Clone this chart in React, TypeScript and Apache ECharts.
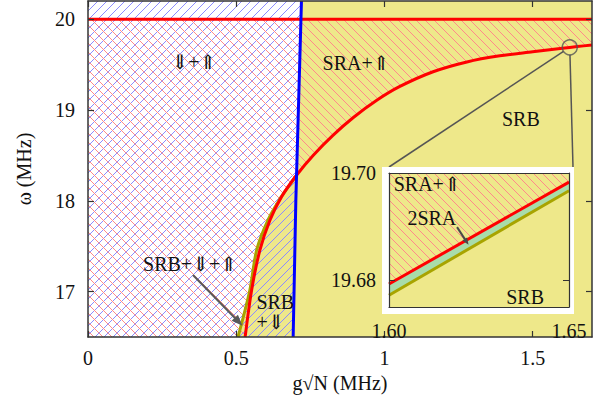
import React, { useEffect, useRef } from 'react';
import * as echarts from 'echarts';

// ---------- data ----------
const xRange = [0, 1.7];
const yRange = [16.5, 20.2];
const xTicks = [0, 0.5, 1, 1.5];
const yTicks = [17, 18, 19, 20];
const upperLimit = 20;

const redX = [0.53, 0.552, 0.58, 0.614, 0.653, 0.704, 0.76, 0.827, 0.895, 0.974, 1.052, 1.164, 1.278, 1.389, 1.5, 1.6, 1.65, 1.7];
const redW = [16.5, 17.018, 17.459, 17.788, 18.045, 18.284, 18.502, 18.723, 18.917, 19.107, 19.259, 19.421, 19.529, 19.596, 19.64, 19.679, 19.698, 19.716];

const oliveX = [0.506, 0.546, 0.569, 0.607, 0.651, 0.679, 0.7035];
const oliveW = [16.5, 17.018, 17.459, 17.788, 18.04, 18.17, 18.284];

const blueX = [0.692, 0.701, 0.72];
const blueW = [16.5, 18.0, 20.2];

const zoomPoint = [1.625, 19.69];

const insetXRange = [1.6, 1.65];
const insetYRange = [19.675, 19.7];
const insetXTicks = [1.6, 1.65];
const insetYTicks = [19.68, 19.7];
const insetRedX = [1.6, 1.65];
const insetRedW = [19.6793, 19.6983];
const insetOliveX = [1.6, 1.65];
const insetOliveW = [19.6772, 19.6967];

// text, x, ω, align
const mainLabels: [string, number, number, string][] = [
  ['⇓+⇑', 0.357, 19.528, 'center'],
  ['SRA+⇑', 0.904, 19.517, 'center'],
  ['SRB', 1.46, 18.9, 'center'],
  ['SRB+⇓+⇑', 0.344, 17.304, 'center'],
  ['SRB\n+⇓', 0.568, 16.77, 'left'],
];
const insetLabels: [string, number, number, string][] = [
  ['SRA+⇑', 1.6106, 19.698, 'center'],
  ['2SRA', 1.6119, 19.6916, 'center'],
  ['SRB', 1.6378, 19.6769, 'center'],
];
const mainArrows: number[][] = [[0.354, 17.183, 0.521, 16.625]];
const insetArrows: number[][] = [[1.6189, 19.6899, 1.6221, 19.6866]];

// ---------- style / layout ----------
const FONT = '"Liberation Serif", "DejaVu Serif", serif';
const KHAKI = '#eee88a';
const GREEN = '#a8dcaa';
const AXIS = '#333';
const TXT = '#111';
const MAIN = { left: 88, top: 1, right: 17, bottom: 62 };
const INSET = { left: 389, top: 173, width: 180, height: 134 };
const BOX = { x: INSET.left - 7, y: INSET.top - 6, w: INSET.width + 12, h: INSET.height + 13 };

function makeHatch(color: string, dir: number, size = 9) {
  const c = document.createElement('canvas');
  c.width = size;
  c.height = size;
  const ctx = c.getContext('2d')!;
  ctx.strokeStyle = color;
  ctx.lineWidth = 1;
  ctx.beginPath();
  for (const o of [-size, 0, size]) {
    if (dir > 0) {
      ctx.moveTo(o - 1, size + 1);
      ctx.lineTo(o + size + 1, -1);
    } else {
      ctx.moveTo(o - 1, -1);
      ctx.lineTo(o + size + 1, size + 1);
    }
  }
  ctx.stroke();
  return { image: c, repeat: 'repeat', imageWidth: size, imageHeight: size };
}

const zip = (xs: number[], ys: number[]) => xs.map((x, i) => [x, ys[i]]);

export default function App() {
  const ref = useRef<HTMLDivElement>(null);
  useEffect(() => {
    if (!ref.current) return;
    const chart = echarts.init(ref.current, null, { renderer: 'svg' });
    const blueHatch = makeHatch('#8c8cff', 1);
    const redHatch = makeHatch('#ff8a8a', -1);

    const red = zip(redX, redW);
    const olive = zip(oliveX, oliveW);
    const blue = zip(blueX, blueW);
    const lastOliveW = oliveW[oliveW.length - 1];

    const yellowPts = [
      ...olive,
      ...blue.filter((p) => p[1] > lastOliveW),
      [xRange[1], yRange[1]],
      [xRange[1], yRange[0]],
    ];
    const blueHatchPts = [[xRange[0], yRange[0]], ...blue, [xRange[0], yRange[1]]];
    const redHatchPts = [
      [xRange[0], yRange[0]],
      ...red,
      [xRange[1], upperLimit],
      [xRange[0], upperLimit],
    ];
    const mainRegions = [
      { pts: yellowPts, fill: KHAKI },
      { pts: blueHatchPts, fill: blueHatch },
      { pts: redHatchPts, fill: redHatch },
    ];

    const iRed = zip(insetRedX, insetRedW);
    const iOlive = zip(insetOliveX, insetOliveW);
    const insetRegions = [
      {
        pts: [
          [insetXRange[0], insetYRange[0]],
          [insetXRange[1], insetYRange[0]],
          [insetXRange[1], insetYRange[1]],
          [insetXRange[0], insetYRange[1]],
        ],
        fill: KHAKI,
      },
      { pts: [...iOlive, ...iRed.slice().reverse()], fill: GREEN },
      {
        pts: [...iRed, [insetXRange[1], insetYRange[1]], [insetXRange[0], insetYRange[1]]],
        fill: redHatch,
      },
    ];

    const polySeries = (regions: any[], gi: number, z: number) => ({
      type: 'custom',
      xAxisIndex: gi * 2,
      yAxisIndex: gi * 2,
      clip: true,
      silent: true,
      z,
      data: regions.map(() => [0, 0]),
      renderItem: (params: any, api: any) => {
        const r = regions[params.dataIndex];
        return {
          type: 'polygon',
          shape: { points: r.pts.map((p: number[]) => api.coord(p)) },
          style: { fill: r.fill, stroke: 'none' },
        };
      },
    });

    const lineSeries = (data: number[][], color: string, gi: number, z: number, smooth = 0) => ({
      type: 'line',
      xAxisIndex: gi * 2,
      yAxisIndex: gi * 2,
      data,
      showSymbol: false,
      symbol: 'none',
      smooth,
      clip: true,
      silent: true,
      z,
      lineStyle: { color, width: 3 },
    });

    const textSeries = (labels: [string, number, number, string][], gi: number, z: number) => ({
      type: 'custom',
      xAxisIndex: gi * 2,
      yAxisIndex: gi * 2,
      clip: false,
      silent: true,
      z,
      data: labels.map((l) => [l[1], l[2]]),
      renderItem: (params: any, api: any) => {
        const l = labels[params.dataIndex];
        const p = api.coord([l[1], l[2]]);
        return {
          type: 'text',
          x: p[0],
          y: p[1],
          style: {
            text: l[0],
            fill: TXT,
            fontSize: 20,
            lineHeight: 20,
            fontFamily: FONT,
            align: l[3],
            verticalAlign: 'middle',
          },
        };
      },
    });

    const arrowSeries = (arrows: number[][], gi: number, z: number, color: string, w: number, head: number) => ({
      type: 'custom',
      xAxisIndex: gi * 2,
      yAxisIndex: gi * 2,
      clip: false,
      silent: true,
      z,
      data: arrows.map((a) => [a[0], a[1]]),
      renderItem: (params: any, api: any) => {
        const a = arrows[params.dataIndex];
        const p1 = api.coord([a[0], a[1]]);
        const p2 = api.coord([a[2], a[3]]);
        const dx = p2[0] - p1[0];
        const dy = p2[1] - p1[1];
        const len = Math.hypot(dx, dy);
        const ux = dx / len;
        const uy = dy / len;
        const bx = p2[0] - ux * head;
        const by = p2[1] - uy * head;
        const hw = head * 0.4;
        return {
          type: 'group',
          children: [
            {
              type: 'line',
              shape: { x1: p1[0], y1: p1[1], x2: bx + ux * 2, y2: by + uy * 2 },
              style: { stroke: color, lineWidth: w },
            },
            {
              type: 'polygon',
              shape: {
                points: [
                  [p2[0], p2[1]],
                  [bx - uy * hw, by + ux * hw],
                  [bx + uy * hw, by - ux * hw],
                ],
              },
              style: { fill: color },
            },
          ],
        };
      },
    });

    const connectorSeries = {
      type: 'custom',
      xAxisIndex: 0,
      yAxisIndex: 0,
      clip: false,
      silent: true,
      z: 40,
      data: [zoomPoint],
      renderItem: (params: any, api: any) => {
        const c = api.coord(zoomPoint);
        const r = 7.5;
        const ends = [
          [INSET.left, BOX.y],
          [INSET.left + INSET.width + 4, BOX.y],
        ];
        return {
          type: 'group',
          children: ends.map((e) => {
            const dx = e[0] - c[0];
            const dy = e[1] - c[1];
            const l = Math.hypot(dx, dy);
            return {
              type: 'line',
              shape: { x1: c[0] + (dx / l) * r, y1: c[1] + (dy / l) * r, x2: e[0], y2: e[1] },
              style: { stroke: '#555', lineWidth: 1.5 },
            };
          }),
        };
      },
    };

    const labelStyle = { fontSize: 20, fontFamily: FONT, color: TXT };
    const baseAxis = (gi: number, z: number) => ({
      gridIndex: gi,
      type: 'value',
      z,
      splitLine: { show: false },
      axisLine: { onZero: false, lineStyle: { color: AXIS, width: gi === 0 ? 1.5 : 1.2 } },
    });

    chart.setOption({
      animation: false,
      backgroundColor: '#fff',
      grid: [
        { left: MAIN.left, top: MAIN.top, right: MAIN.right, bottom: MAIN.bottom },
        { left: INSET.left, top: INSET.top, width: INSET.width, height: INSET.height, z: 60 },
      ],
      xAxis: [
        {
          ...baseAxis(0, 10),
          min: xRange[0],
          max: xRange[1],
          position: 'bottom',
          axisTick: { inside: true, length: 6, customValues: xTicks, lineStyle: { color: AXIS, width: 1.2 } },
          axisLabel: { ...labelStyle, margin: 11, customValues: xTicks },
          name: 'g√N (MHz)',
          nameLocation: 'middle',
          nameGap: 29,
          nameTextStyle: { ...labelStyle },
        },
        {
          ...baseAxis(0, 10),
          min: xRange[0],
          max: xRange[1],
          position: 'top',
          axisTick: { inside: true, length: 6, customValues: xTicks, lineStyle: { color: AXIS, width: 1.2 } },
          axisLabel: { show: false },
        },
        {
          ...baseAxis(1, 70),
          min: insetXRange[0],
          max: insetXRange[1],
          position: 'bottom',
          axisTick: { inside: true, length: 6, customValues: insetXTicks, lineStyle: { color: AXIS } },
          axisLabel: {
            ...labelStyle,
            margin: 14,
            customValues: insetXTicks,
            formatter: (v: number) => v.toFixed(2),
          },
        },
        {
          ...baseAxis(1, 70),
          min: insetXRange[0],
          max: insetXRange[1],
          position: 'top',
          axisTick: { show: false },
          axisLabel: { show: false },
        },
      ],
      yAxis: [
        {
          ...baseAxis(0, 10),
          min: yRange[0],
          max: yRange[1],
          position: 'left',
          axisTick: { inside: true, length: 6, customValues: yTicks, lineStyle: { color: AXIS, width: 1.2 } },
          axisLabel: { ...labelStyle, margin: 13, customValues: yTicks },
          name: 'ω (MHz)',
          nameLocation: 'middle',
          nameGap: 54,
          nameTextStyle: { ...labelStyle },
        },
        {
          ...baseAxis(0, 10),
          min: yRange[0],
          max: yRange[1],
          position: 'right',
          axisTick: { inside: true, length: 6, customValues: yTicks, lineStyle: { color: AXIS, width: 1.2 } },
          axisLabel: { show: false },
        },
        {
          ...baseAxis(1, 70),
          min: insetYRange[0],
          max: insetYRange[1],
          position: 'left',
          axisTick: { inside: true, length: 6, customValues: insetYTicks, lineStyle: { color: AXIS } },
          axisLabel: {
            ...labelStyle,
            margin: 13,
            customValues: insetYTicks,
            formatter: (v: number) => v.toFixed(2),
          },
        },
        {
          ...baseAxis(1, 70),
          min: insetYRange[0],
          max: insetYRange[1],
          position: 'right',
          axisTick: { inside: true, length: 6, customValues: insetYTicks, lineStyle: { color: AXIS } },
          axisLabel: { show: false },
        },
      ],
      graphic: [
        {
          type: 'rect',
          z: 50,
          silent: true,
          shape: { x: BOX.x, y: BOX.y, width: BOX.w, height: BOX.h },
          style: { fill: '#ffffff' },
        },
      ],
      series: [
        polySeries(mainRegions, 0, 1),
        lineSeries(olive, '#a8a400', 0, 3, 0.3),
        lineSeries(red, '#ff0000', 0, 4, 0.3),
        lineSeries([[xRange[0], upperLimit], [xRange[1], upperLimit]], '#ff0000', 0, 4),
        lineSeries(blue, '#0000ff', 0, 4),
        textSeries(mainLabels, 0, 6),
        arrowSeries(mainArrows, 0, 6, '#5a5a5a', 2, 11),
        connectorSeries,
        {
          type: 'scatter',
          xAxisIndex: 0,
          yAxisIndex: 0,
          silent: true,
          z: 40,
          data: [zoomPoint],
          symbol: 'circle',
          symbolSize: 15,
          itemStyle: { color: 'rgba(0,0,0,0)', borderColor: '#555', borderWidth: 1.5 },
        },
        polySeries(insetRegions, 1, 60),
        lineSeries(iOlive, '#a8a400', 1, 62),
        lineSeries(iRed, '#ff0000', 1, 63),
        textSeries(insetLabels, 1, 66),
        arrowSeries(insetArrows, 1, 66, '#4a4a4a', 2, 7),
      ],
    });
    return () => chart.dispose();
  }, []);
  return (
    <div
      ref={ref}
      style={{ position: 'absolute', left: 0, top: 0, width: 609, height: 399 }}
    />
  );
}
